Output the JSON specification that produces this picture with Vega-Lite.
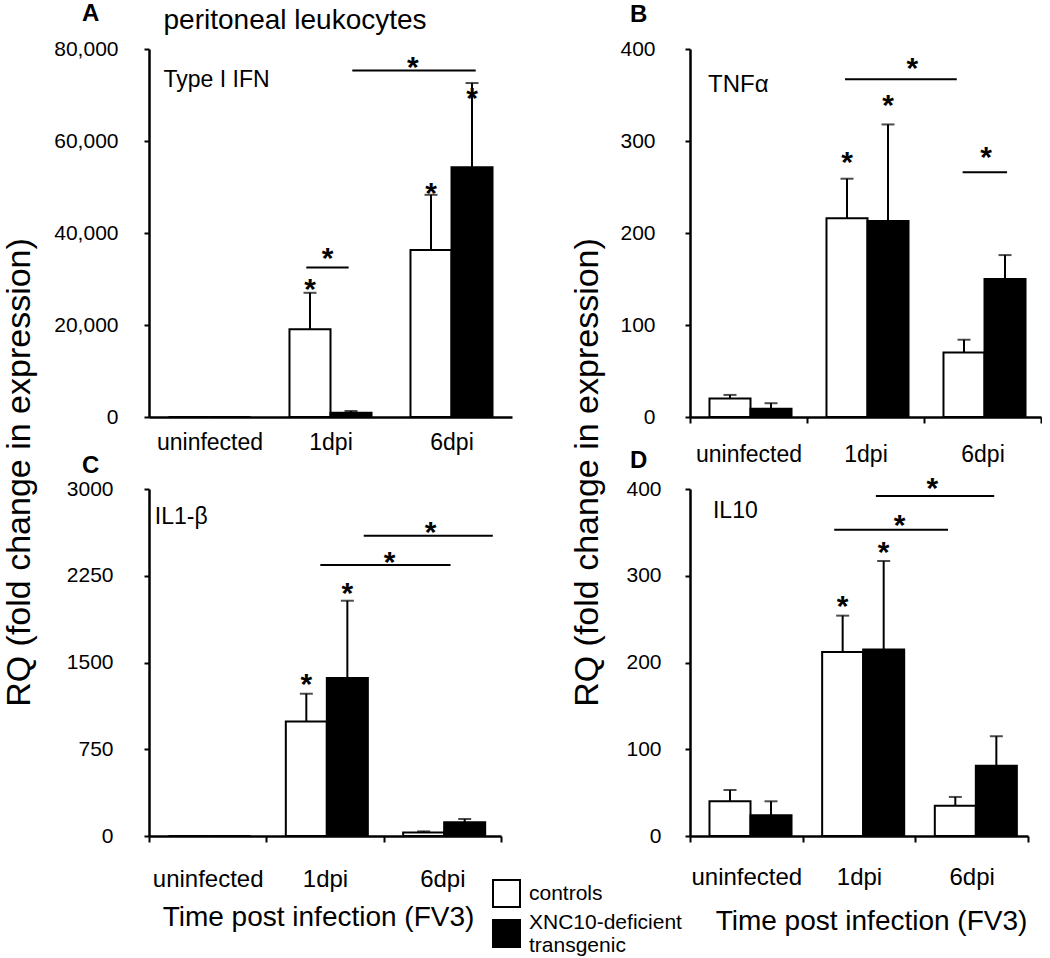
{
  "$schema": "https://vega.github.io/schema/vega-lite/v6.json",
  "padding": {"left": 2, "top": 1, "right": 0, "bottom": 0},
  "bounds": "flush",
  "columns": 2,
  "spacing": {"row": 72, "column": 178},
  "resolve": {"scale": {"fill": "shared"}, "legend": {"fill": "shared"}},
  "config": {
    "font": "Liberation Sans",
    "view": {"stroke": null},
    "axis": {"grid": false, "domainColor": "black", "domainWidth": 2.5, "tickColor": "black", "tickWidth": 2, "labelColor": "black", "titleColor": "black", "labelFont": "Liberation Sans", "titleFont": "Liberation Sans", "titleFontWeight": "normal", "labelOverlap": false},
    "text": {"color": "black", "font": "Liberation Sans"},
    "title": {"color": "black", "font": "Liberation Sans"}
  },
  "datasets": {
    "bars": [
      {"panel": "A", "time": "uninfected", "group": "controls", "value": 0, "upper": 0},
      {"panel": "A", "time": "uninfected", "group": "XNC10-deficient transgenic", "value": 0, "upper": 0},
      {"panel": "A", "time": "1dpi", "group": "controls", "value": 19100, "upper": 27000, "star": 29100},
      {"panel": "A", "time": "1dpi", "group": "XNC10-deficient transgenic", "value": 900, "upper": 1300},
      {"panel": "A", "time": "6dpi", "group": "controls", "value": 36300, "upper": 48300, "star": 50100},
      {"panel": "A", "time": "6dpi", "group": "XNC10-deficient transgenic", "value": 54300, "upper": 72600, "star": 70600},
      {"panel": "B", "time": "uninfected", "group": "controls", "value": 20, "upper": 24},
      {"panel": "B", "time": "uninfected", "group": "XNC10-deficient transgenic", "value": 9, "upper": 15},
      {"panel": "B", "time": "1dpi", "group": "controls", "value": 216, "upper": 259, "star": 284},
      {"panel": "B", "time": "1dpi", "group": "XNC10-deficient transgenic", "value": 213, "upper": 318, "star": 346},
      {"panel": "B", "time": "6dpi", "group": "controls", "value": 70, "upper": 84},
      {"panel": "B", "time": "6dpi", "group": "XNC10-deficient transgenic", "value": 150, "upper": 176},
      {"panel": "C", "time": "uninfected", "group": "controls", "value": 0, "upper": 0},
      {"panel": "C", "time": "uninfected", "group": "XNC10-deficient transgenic", "value": 0, "upper": 0},
      {"panel": "C", "time": "1dpi", "group": "controls", "value": 990, "upper": 1230, "star": 1366},
      {"panel": "C", "time": "1dpi", "group": "XNC10-deficient transgenic", "value": 1366, "upper": 2034, "star": 2150},
      {"panel": "C", "time": "6dpi", "group": "controls", "value": 30, "upper": 40},
      {"panel": "C", "time": "6dpi", "group": "XNC10-deficient transgenic", "value": 118, "upper": 147},
      {"panel": "D", "time": "uninfected", "group": "controls", "value": 40, "upper": 53},
      {"panel": "D", "time": "uninfected", "group": "XNC10-deficient transgenic", "value": 24, "upper": 40},
      {"panel": "D", "time": "1dpi", "group": "controls", "value": 212, "upper": 254, "star": 272},
      {"panel": "D", "time": "1dpi", "group": "XNC10-deficient transgenic", "value": 215, "upper": 317, "star": 334},
      {"panel": "D", "time": "6dpi", "group": "controls", "value": 35, "upper": 45},
      {"panel": "D", "time": "6dpi", "group": "XNC10-deficient transgenic", "value": 81, "upper": 115}
    ],
    "brackets": [
      {"id": "A1", "from": "1dpi", "to": "1dpi", "y": 32500, "starAt": "1dpi", "star": 35800},
      {"id": "A2", "from": "1dpi", "to": "6dpi", "y": 75300, "starAt": "6dpi", "star": 77450},
      {"id": "B1", "from": "1dpi", "to": "6dpi", "y": 367, "starAt": "1dpi", "star": 386},
      {"id": "B2", "from": "6dpi", "to": "6dpi", "y": 266, "starAt": "6dpi", "star": 289},
      {"id": "C1", "from": "1dpi", "to": "6dpi", "y": 2343, "starAt": "6dpi", "star": 2421},
      {"id": "C2", "from": "1dpi", "to": "6dpi", "y": 2596, "starAt": "6dpi", "star": 2680},
      {"id": "D1", "from": "1dpi", "to": "6dpi", "y": 353, "starAt": "1dpi", "star": 365},
      {"id": "D2", "from": "1dpi", "to": "6dpi", "y": 392, "starAt": "6dpi", "star": 407.5}
    ],
    "notes": [
      {"panel": "A", "kind": "gene", "text": "Type I IFN", "time": "uninfected", "y": 71740},
      {"panel": "A", "kind": "title", "text": "peritoneal leukocytes", "time": "uninfected", "y": 84450},
      {"panel": "B", "kind": "gene", "text": "TNFα", "time": "uninfected", "y": 353},
      {"panel": "C", "kind": "gene", "text": "IL1-β", "time": "uninfected", "y": 2697},
      {"panel": "D", "kind": "gene", "text": "IL10", "time": "uninfected", "y": 366}
    ]
  },
  "concat": [
    {
      "width": 363, "height": 368,
      "title": {"text": "A", "anchor": "start", "frame": "group", "dx": -67, "offset": -38, "fontSize": 24, "fontWeight": "bold", "baseline": "alphabetic"},
      "layer": [
        {"data": {"name": "bars"}, "transform": [{"filter": "datum.panel == 'A'"}],
         "mark": {"type": "bar", "stroke": "black", "strokeWidth": 2},
         "encoding": {
           "x": {"field": "time", "type": "nominal", "sort": null, "scale": {"domain": ["uninfected", "1dpi", "6dpi"], "paddingInner": 0, "paddingOuter": 0},
                 "axis": {"title": null, "labelFontSize": 23, "labelAngle": 0, "ticks": false, "tickSize": 0, "labelPadding": 32, "labelBaseline": "alphabetic", "tickBand": "extent"}},
           "xOffset": {"field": "group", "type": "nominal", "scale": {"domain": ["controls", "XNC10-deficient transgenic"], "paddingInner": 0, "paddingOuter": 0.475}},
           "y": {"field": "value", "type": "quantitative", "scale": {"domain": [0, 80000], "nice": false},
                 "axis": {"values": [0, 20000, 40000, 60000, 80000], "format": ",d", "labelFontSize": 21, "labelPadding": 26, "tickSize": 5,
                          "title": "RQ (fold change in expression)", "titleFontSize": 34, "titleX": -120, "titleY": 423, "titleAngle": -90, "titleAlign": "center", "titleBaseline": "alphabetic"}},
           "fill": {"field": "group", "type": "nominal", "scale": {"domain": ["controls", "XNC10-deficient transgenic"], "range": ["white", "black"]},
                    "legend": {"orient": "none", "legendX": 343, "legendY": 830, "title": null, "symbolType": "square", "symbolSize": 729, "symbolStrokeColor": "black", "symbolStrokeWidth": 2, "labelFontSize": 21, "labelOffset": 8, "labelExpr": "split(datum.label, ' ')", "labelBaseline": {"expr": "datum.value == 'controls' ? 'middle' : 'line-bottom'"}, "rowPadding": 0, "labelLineHeight": 26, "padding": 0, "labelColor": "black", "labelFont": "Liberation Sans"}}
         }},
        {"data": {"name": "bars"}, "transform": [{"filter": "datum.panel == 'A' && datum.upper > datum.value"}],
         "mark": {"type": "rule", "strokeWidth": 2, "color": "black"},
         "encoding": {"x": {"field": "time", "type": "nominal"}, "xOffset": {"field": "group", "type": "nominal"}, "y": {"field": "value", "type": "quantitative"}, "y2": {"field": "upper"}}},
        {"data": {"name": "bars"}, "transform": [{"filter": "datum.panel == 'A' && datum.upper > datum.value"}],
         "mark": {"type": "tick", "color": "black", "thickness": 2, "size": 13, "orient": "horizontal"},
         "encoding": {"x": {"field": "time", "type": "nominal"}, "xOffset": {"field": "group", "type": "nominal"}, "y": {"field": "upper", "type": "quantitative"}}},
        {"data": {"name": "bars"}, "transform": [{"filter": "datum.panel == 'A' && isValid(datum.star)"}],
         "mark": {"type": "text", "text": "*", "fontSize": 30, "fontWeight": "bold", "baseline": "alphabetic", "dy": 16},
         "encoding": {"x": {"field": "time", "type": "nominal"}, "xOffset": {"field": "group", "type": "nominal"}, "y": {"field": "star", "type": "quantitative"}}},
        {"data": {"name": "brackets"}, "transform": [{"filter": "datum.id == 'A1'"}],
         "mark": {"type": "rule", "strokeWidth": 2, "color": "black"},
         "encoding": {"x": {"field": "from", "type": "nominal", "bandPosition": 0.30}, "x2": {"field": "to", "bandPosition": 0.65}, "y": {"field": "y", "type": "quantitative"}}},
        {"data": {"name": "brackets"}, "transform": [{"filter": "datum.id == 'A2'"}],
         "mark": {"type": "rule", "strokeWidth": 2, "color": "black"},
         "encoding": {"x": {"field": "from", "type": "nominal", "bandPosition": 0.68}, "x2": {"field": "to", "bandPosition": 0.70}, "y": {"field": "y", "type": "quantitative"}}},
        {"data": {"name": "brackets"}, "transform": [{"filter": "datum.id == 'A1'"}],
         "mark": {"type": "text", "text": "*", "fontSize": 30, "fontWeight": "bold", "baseline": "alphabetic", "dy": 16},
         "encoding": {"x": {"field": "starAt", "type": "nominal", "bandPosition": 0.475}, "y": {"field": "star", "type": "quantitative"}}},
        {"data": {"name": "brackets"}, "transform": [{"filter": "datum.id == 'A2'"}],
         "mark": {"type": "text", "text": "*", "fontSize": 30, "fontWeight": "bold", "baseline": "alphabetic", "dy": 16},
         "encoding": {"x": {"field": "starAt", "type": "nominal", "bandPosition": 0.18}, "y": {"field": "star", "type": "quantitative"}}},
        {"data": {"name": "notes"}, "transform": [{"filter": "datum.panel == 'A' && datum.kind == 'gene'"}],
         "mark": {"type": "text", "align": "left", "baseline": "alphabetic", "fontSize": 23},
         "encoding": {"x": {"field": "time", "type": "nominal", "bandPosition": 0.12}, "y": {"field": "y", "type": "quantitative"}, "text": {"field": "text"}}},
        {"data": {"name": "notes"}, "transform": [{"filter": "datum.panel == 'A' && datum.kind == 'title'"}],
         "mark": {"type": "text", "align": "left", "baseline": "alphabetic", "fontSize": 28},
         "encoding": {"x": {"field": "time", "type": "nominal", "bandPosition": 0.12}, "y": {"field": "y", "type": "quantitative"}, "text": {"field": "text"}}}
      ]
    },
    {
      "width": 351, "height": 368,
      "title": {"text": "B", "anchor": "start", "frame": "group", "dx": -60, "offset": -8, "fontSize": 24, "fontWeight": "bold", "baseline": "alphabetic"},
      "layer": [
        {"data": {"name": "bars"}, "transform": [{"filter": "datum.panel == 'B'"}],
         "mark": {"type": "bar", "stroke": "black", "strokeWidth": 2},
         "encoding": {
           "x": {"field": "time", "type": "nominal", "sort": null, "scale": {"domain": ["uninfected", "1dpi", "6dpi"], "paddingInner": 0, "paddingOuter": 0},
                 "axis": {"title": null, "labelFontSize": 23, "labelAngle": 0, "tickSize": 6, "labelPadding": 38, "labelBaseline": "alphabetic", "tickBand": "extent"}},
           "xOffset": {"field": "group", "type": "nominal", "scale": {"domain": ["controls", "XNC10-deficient transgenic"], "paddingInner": 0, "paddingOuter": 0.5}},
           "y": {"field": "value", "type": "quantitative", "scale": {"domain": [0, 400], "nice": false},
                 "axis": {"values": [0, 100, 200, 300, 400], "format": "d", "labelFontSize": 21, "labelPadding": 30, "tickSize": 5,
                          "title": "RQ (fold change in expression)", "titleFontSize": 34, "titleX": -93, "titleY": 423, "titleAngle": -90, "titleAlign": "center", "titleBaseline": "alphabetic"}},
           "fill": {"field": "group", "type": "nominal", "scale": {"domain": ["controls", "XNC10-deficient transgenic"], "range": ["white", "black"]},
                    "legend": {"orient": "none", "legendX": 343, "legendY": 830, "title": null, "symbolType": "square", "symbolSize": 729, "symbolStrokeColor": "black", "symbolStrokeWidth": 2, "labelFontSize": 21, "labelOffset": 8, "labelExpr": "split(datum.label, ' ')", "labelBaseline": {"expr": "datum.value == 'controls' ? 'middle' : 'line-bottom'"}, "rowPadding": 0, "labelLineHeight": 26, "padding": 0, "labelColor": "black", "labelFont": "Liberation Sans"}}
         }},
        {"data": {"name": "bars"}, "transform": [{"filter": "datum.panel == 'B' && datum.upper > datum.value"}],
         "mark": {"type": "rule", "strokeWidth": 2, "color": "black"},
         "encoding": {"x": {"field": "time", "type": "nominal"}, "xOffset": {"field": "group", "type": "nominal"}, "y": {"field": "value", "type": "quantitative"}, "y2": {"field": "upper"}}},
        {"data": {"name": "bars"}, "transform": [{"filter": "datum.panel == 'B' && datum.upper > datum.value"}],
         "mark": {"type": "tick", "color": "black", "thickness": 2, "size": 13, "orient": "horizontal"},
         "encoding": {"x": {"field": "time", "type": "nominal"}, "xOffset": {"field": "group", "type": "nominal"}, "y": {"field": "upper", "type": "quantitative"}}},
        {"data": {"name": "bars"}, "transform": [{"filter": "datum.panel == 'B' && isValid(datum.star)"}],
         "mark": {"type": "text", "text": "*", "fontSize": 30, "fontWeight": "bold", "baseline": "alphabetic", "dy": 16},
         "encoding": {"x": {"field": "time", "type": "nominal"}, "xOffset": {"field": "group", "type": "nominal"}, "y": {"field": "star", "type": "quantitative"}}},
        {"data": {"name": "brackets"}, "transform": [{"filter": "datum.id == 'B1'"}],
         "mark": {"type": "rule", "strokeWidth": 2, "color": "black"},
         "encoding": {"x": {"field": "from", "type": "nominal", "bandPosition": 0.325}, "x2": {"field": "to", "bandPosition": 0.28}, "y": {"field": "y", "type": "quantitative"}}},
        {"data": {"name": "brackets"}, "transform": [{"filter": "datum.id == 'B2'"}],
         "mark": {"type": "rule", "strokeWidth": 2, "color": "black"},
         "encoding": {"x": {"field": "from", "type": "nominal", "bandPosition": 0.33}, "x2": {"field": "to", "bandPosition": 0.71}, "y": {"field": "y", "type": "quantitative"}}},
        {"data": {"name": "brackets"}, "transform": [{"filter": "datum.id == 'B1'"}],
         "mark": {"type": "text", "text": "*", "fontSize": 30, "fontWeight": "bold", "baseline": "alphabetic", "dy": 16},
         "encoding": {"x": {"field": "starAt", "type": "nominal", "bandPosition": 0.9}, "y": {"field": "star", "type": "quantitative"}}},
        {"data": {"name": "brackets"}, "transform": [{"filter": "datum.id == 'B2'"}],
         "mark": {"type": "text", "text": "*", "fontSize": 30, "fontWeight": "bold", "baseline": "alphabetic", "dy": 16},
         "encoding": {"x": {"field": "starAt", "type": "nominal", "bandPosition": 0.53}, "y": {"field": "star", "type": "quantitative"}}},
        {"data": {"name": "notes"}, "transform": [{"filter": "datum.panel == 'B'"}],
         "mark": {"type": "text", "align": "left", "baseline": "alphabetic", "fontSize": 24},
         "encoding": {"x": {"field": "time", "type": "nominal", "bandPosition": 0.154}, "y": {"field": "y", "type": "quantitative"}, "text": {"field": "text"}}}
      ]
    },
    {
      "width": 352, "height": 347,
      "title": {"text": "C", "anchor": "start", "frame": "group", "dx": -67, "offset": -19, "fontSize": 24, "fontWeight": "bold", "baseline": "alphabetic"},
      "layer": [
        {"data": {"name": "bars"}, "transform": [{"filter": "datum.panel == 'C'"}],
         "mark": {"type": "bar", "stroke": "black", "strokeWidth": 2},
         "encoding": {
           "x": {"field": "time", "type": "nominal", "sort": null, "scale": {"domain": ["uninfected", "1dpi", "6dpi"], "paddingInner": 0, "paddingOuter": 0},
                 "axis": {"labelFontSize": 24, "labelAngle": 0, "tickSize": 6, "labelPadding": 44, "labelBaseline": "alphabetic", "tickBand": "extent",
                          "title": "Time post infection (FV3)", "titleFontSize": 28, "titleX": 169, "titleY": 89, "titleAlign": "center", "titleBaseline": "alphabetic"}},
           "xOffset": {"field": "group", "type": "nominal", "scale": {"domain": ["controls", "XNC10-deficient transgenic"], "paddingInner": 0, "paddingOuter": 0.56}},
           "y": {"field": "value", "type": "quantitative", "scale": {"domain": [0, 3000], "nice": false},
                 "axis": {"values": [0, 750, 1500, 2250, 3000], "format": "d", "labelFontSize": 21, "labelPadding": 31, "tickSize": 5, "title": null}},
           "fill": {"field": "group", "type": "nominal", "scale": {"domain": ["controls", "XNC10-deficient transgenic"], "range": ["white", "black"]},
                    "legend": {"orient": "none", "legendX": 343, "legendY": 830, "title": null, "symbolType": "square", "symbolSize": 729, "symbolStrokeColor": "black", "symbolStrokeWidth": 2, "labelFontSize": 21, "labelOffset": 8, "labelExpr": "split(datum.label, ' ')", "labelBaseline": {"expr": "datum.value == 'controls' ? 'middle' : 'line-bottom'"}, "rowPadding": 0, "labelLineHeight": 26, "padding": 0, "labelColor": "black", "labelFont": "Liberation Sans"}}
         }},
        {"data": {"name": "bars"}, "transform": [{"filter": "datum.panel == 'C' && datum.upper > datum.value"}],
         "mark": {"type": "rule", "strokeWidth": 2, "color": "black"},
         "encoding": {"x": {"field": "time", "type": "nominal"}, "xOffset": {"field": "group", "type": "nominal"}, "y": {"field": "value", "type": "quantitative"}, "y2": {"field": "upper"}}},
        {"data": {"name": "bars"}, "transform": [{"filter": "datum.panel == 'C' && datum.upper > datum.value"}],
         "mark": {"type": "tick", "color": "black", "thickness": 2, "size": 13, "orient": "horizontal"},
         "encoding": {"x": {"field": "time", "type": "nominal"}, "xOffset": {"field": "group", "type": "nominal"}, "y": {"field": "upper", "type": "quantitative"}}},
        {"data": {"name": "bars"}, "transform": [{"filter": "datum.panel == 'C' && isValid(datum.star)"}],
         "mark": {"type": "text", "text": "*", "fontSize": 30, "fontWeight": "bold", "baseline": "alphabetic", "dy": 16},
         "encoding": {"x": {"field": "time", "type": "nominal"}, "xOffset": {"field": "group", "type": "nominal"}, "y": {"field": "star", "type": "quantitative"}}},
        {"data": {"name": "brackets"}, "transform": [{"filter": "datum.id == 'C1'"}],
         "mark": {"type": "rule", "strokeWidth": 2, "color": "black"},
         "encoding": {"x": {"field": "from", "type": "nominal", "bandPosition": 0.46}, "x2": {"field": "to", "bandPosition": 0.57}, "y": {"field": "y", "type": "quantitative"}}},
        {"data": {"name": "brackets"}, "transform": [{"filter": "datum.id == 'C2'"}],
         "mark": {"type": "rule", "strokeWidth": 2, "color": "black"},
         "encoding": {"x": {"field": "from", "type": "nominal", "bandPosition": 0.83}, "x2": {"field": "to", "bandPosition": 0.93}, "y": {"field": "y", "type": "quantitative"}}},
        {"data": {"name": "brackets"}, "transform": [{"filter": "datum.id == 'C1'"}],
         "mark": {"type": "text", "text": "*", "fontSize": 30, "fontWeight": "bold", "baseline": "alphabetic", "dy": 16},
         "encoding": {"x": {"field": "starAt", "type": "nominal", "bandPosition": 0.05}, "y": {"field": "star", "type": "quantitative"}}},
        {"data": {"name": "brackets"}, "transform": [{"filter": "datum.id == 'C2'"}],
         "mark": {"type": "text", "text": "*", "fontSize": 30, "fontWeight": "bold", "baseline": "alphabetic", "dy": 16},
         "encoding": {"x": {"field": "starAt", "type": "nominal", "bandPosition": 0.40}, "y": {"field": "star", "type": "quantitative"}}},
        {"data": {"name": "notes"}, "transform": [{"filter": "datum.panel == 'C'"}],
         "mark": {"type": "text", "align": "left", "baseline": "alphabetic", "fontSize": 23},
         "encoding": {"x": {"field": "time", "type": "nominal", "bandPosition": 0.05}, "y": {"field": "y", "type": "quantitative"}, "text": {"field": "text"}}}
      ]
    },
    {
      "width": 338, "height": 347,
      "title": {"text": "D", "anchor": "start", "frame": "group", "dx": -60, "offset": -18, "fontSize": 24, "fontWeight": "bold", "baseline": "alphabetic"},
      "layer": [
        {"data": {"name": "bars"}, "transform": [{"filter": "datum.panel == 'D'"}],
         "mark": {"type": "bar", "stroke": "black", "strokeWidth": 2},
         "encoding": {
           "x": {"field": "time", "type": "nominal", "sort": null, "scale": {"domain": ["uninfected", "1dpi", "6dpi"], "paddingInner": 0, "paddingOuter": 0},
                 "axis": {"labelFontSize": 24, "labelAngle": 0, "tickSize": 6, "labelPadding": 42, "labelBaseline": "alphabetic", "tickBand": "extent",
                          "title": "Time post infection (FV3)", "titleFontSize": 28, "titleX": 181, "titleY": 93, "titleAlign": "center", "titleBaseline": "alphabetic"}},
           "xOffset": {"field": "group", "type": "nominal", "scale": {"domain": ["controls", "XNC10-deficient transgenic"], "paddingInner": 0, "paddingOuter": 0.54}},
           "y": {"field": "value", "type": "quantitative", "scale": {"domain": [0, 400], "nice": false},
                 "axis": {"values": [0, 100, 200, 300, 400], "format": "d", "labelFontSize": 21, "labelPadding": 24, "tickSize": 5, "title": null}},
           "fill": {"field": "group", "type": "nominal", "scale": {"domain": ["controls", "XNC10-deficient transgenic"], "range": ["white", "black"]},
                    "legend": {"orient": "none", "legendX": 343, "legendY": 830, "title": null, "symbolType": "square", "symbolSize": 729, "symbolStrokeColor": "black", "symbolStrokeWidth": 2, "labelFontSize": 21, "labelOffset": 8, "labelExpr": "split(datum.label, ' ')", "labelBaseline": {"expr": "datum.value == 'controls' ? 'middle' : 'line-bottom'"}, "rowPadding": 0, "labelLineHeight": 26, "padding": 0, "labelColor": "black", "labelFont": "Liberation Sans"}}
         }},
        {"data": {"name": "bars"}, "transform": [{"filter": "datum.panel == 'D' && datum.upper > datum.value"}],
         "mark": {"type": "rule", "strokeWidth": 2, "color": "black"},
         "encoding": {"x": {"field": "time", "type": "nominal"}, "xOffset": {"field": "group", "type": "nominal"}, "y": {"field": "value", "type": "quantitative"}, "y2": {"field": "upper"}}},
        {"data": {"name": "bars"}, "transform": [{"filter": "datum.panel == 'D' && datum.upper > datum.value"}],
         "mark": {"type": "tick", "color": "black", "thickness": 2, "size": 13, "orient": "horizontal"},
         "encoding": {"x": {"field": "time", "type": "nominal"}, "xOffset": {"field": "group", "type": "nominal"}, "y": {"field": "upper", "type": "quantitative"}}},
        {"data": {"name": "bars"}, "transform": [{"filter": "datum.panel == 'D' && isValid(datum.star)"}],
         "mark": {"type": "text", "text": "*", "fontSize": 30, "fontWeight": "bold", "baseline": "alphabetic", "dy": 16},
         "encoding": {"x": {"field": "time", "type": "nominal"}, "xOffset": {"field": "group", "type": "nominal"}, "y": {"field": "star", "type": "quantitative"}}},
        {"data": {"name": "brackets"}, "transform": [{"filter": "datum.id == 'D1'"}],
         "mark": {"type": "rule", "strokeWidth": 2, "color": "black"},
         "encoding": {"x": {"field": "from", "type": "nominal", "bandPosition": 0.28}, "x2": {"field": "to", "bandPosition": 0.29}, "y": {"field": "y", "type": "quantitative"}}},
        {"data": {"name": "brackets"}, "transform": [{"filter": "datum.id == 'D2'"}],
         "mark": {"type": "rule", "strokeWidth": 2, "color": "black"},
         "encoding": {"x": {"field": "from", "type": "nominal", "bandPosition": 0.65}, "x2": {"field": "to", "bandPosition": 0.70}, "y": {"field": "y", "type": "quantitative"}}},
        {"data": {"name": "brackets"}, "transform": [{"filter": "datum.id == 'D1'"}],
         "mark": {"type": "text", "text": "*", "fontSize": 30, "fontWeight": "bold", "baseline": "alphabetic", "dy": 16},
         "encoding": {"x": {"field": "starAt", "type": "nominal", "bandPosition": 0.86}, "y": {"field": "star", "type": "quantitative"}}},
        {"data": {"name": "brackets"}, "transform": [{"filter": "datum.id == 'D2'"}],
         "mark": {"type": "text", "text": "*", "fontSize": 30, "fontWeight": "bold", "baseline": "alphabetic", "dy": 16},
         "encoding": {"x": {"field": "starAt", "type": "nominal", "bandPosition": 0.15}, "y": {"field": "star", "type": "quantitative"}}},
        {"data": {"name": "notes"}, "transform": [{"filter": "datum.panel == 'D'"}],
         "mark": {"type": "text", "align": "left", "baseline": "alphabetic", "fontSize": 23},
         "encoding": {"x": {"field": "time", "type": "nominal", "bandPosition": 0.204}, "y": {"field": "y", "type": "quantitative"}, "text": {"field": "text"}}}
      ]
    }
  ]
}
